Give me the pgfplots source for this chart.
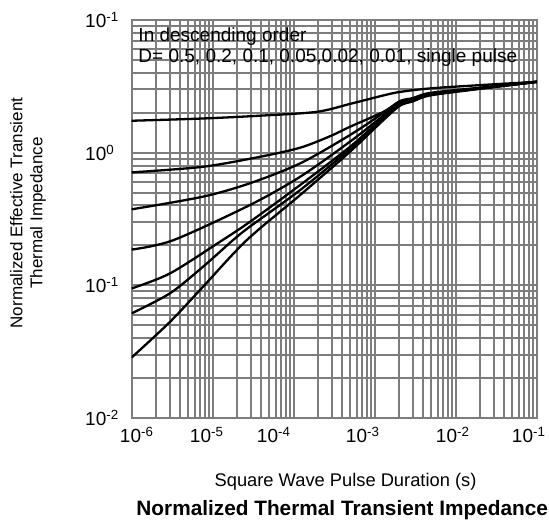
\documentclass[border=0pt]{standalone}
\usepackage{pgfplots}
\pgfplotsset{compat=1.18}
\usepackage{fontspec}
\setmainfont{Liberation Sans}

\definecolor{gridgray}{RGB}{125,125,125}

\begin{document}
\begin{tikzpicture}
\begin{axis}[
    at={(0pt,0pt)}, anchor=south west,
    scale only axis,
    width=405pt, height=398pt,
    xmode=log, ymode=log,
    xmin=1e-6, xmax=1e-1,
    ymin=1e-2, ymax=1e1,
    xtick={1e-6,1e-5,1e-4,1e-3,1e-2,1e-1},
    xticklabels={\kern5pt 10\textsuperscript{-6}\kern-5pt,
                 \kern-6pt 10\textsuperscript{-5}\kern6pt,
                 \kern-20pt 10\textsuperscript{-4}\kern20pt,
                 \kern-12pt 10\textsuperscript{-3}\kern12pt,
                 \kern-3pt 10\textsuperscript{-2}\kern3pt,
                 \kern-8pt 10\textsuperscript{-1}\kern8pt},
    ytick={1e-2,1e-1,1,10},
    yticklabels={10\textsuperscript{-2},10\textsuperscript{-1},10\textsuperscript{0},10\textsuperscript{-1}},
    minor xtick={2e-6,3e-6,4e-6,5e-6,6e-6,7e-6,8e-6,9e-6,
                 2e-5,3e-5,4e-5,5e-5,6e-5,7e-5,8e-5,9e-5,
                 2e-4,3e-4,4e-4,5e-4,6e-4,7e-4,8e-4,9e-4,
                 2e-3,3e-3,4e-3,5e-3,6e-3,7e-3,8e-3,9e-3,
                 2e-2,3e-2,4e-2,5e-2,6e-2,7e-2,8e-2,9e-2},
    minor ytick={0.02,0.03,0.04,0.05,0.06,0.07,0.08,0.09,
                 0.2,0.3,0.4,0.5,0.6,0.7,0.8,0.9,
                 2,3,4,5,6,7,8,9},
    grid=both,
    grid style={gridgray, line width=2pt},
    major grid style={gridgray, line width=2pt},
    minor grid style={gridgray, line width=2pt},
    axis line style={gridgray, line width=2pt},
    major tick length=0pt, minor tick length=0pt,
    tick label style={font=\fontsize{19}{23}\selectfont},
    xticklabel style={anchor=north, inner sep=0pt, yshift=-9pt},
    yticklabel style={anchor=west, inner sep=0pt, xshift=-46.7pt},
    xlabel={Square Wave Pulse Duration (s)},
    xlabel style={at={(axis description cs:0.528,-0.173)}, anchor=base,
                  font=\fontsize{18.3}{22}\selectfont},
    ylabel={Normalized Effective Transient\\Thermal Impedance},
    ylabel style={at={(axis description cs:-0.256,0.515)}, anchor=center,
                  align=center, font=\fontsize{17}{20}\selectfont},
    title={Normalized Thermal Transient Impedance},
    title style={at={(axis description cs:0.003,-0.259)}, anchor=base west,
                 font=\bfseries\fontsize{20.8}{25}\selectfont},
    curve/.style={black, line width=2.3pt, smooth, tension=0.5, mark=none, solid},
]
% D = 0.5
\addplot[curve] coordinates {(1e-6,1.74) (7.59e-6,1.81) (3.84e-5,1.90) (1.92e-4,2.03)
  (4.95e-4,2.33) (1.28e-3,2.70) (2.05e-3,2.87) (4.82e-3,3.05)
  (2e-2,3.23) (0.1,3.42)};
% D = 0.2
\addplot[curve] coordinates {(1e-6,0.710) (7.59e-6,0.783) (3.84e-5,0.931) (1.20e-4,1.09)
  (2.81e-4,1.33) (4.95e-4,1.567) (1.28e-3,2.03) (2.05e-3,2.45) (2.97e-3,2.58)
  (4.82e-3,2.82) (2e-2,3.09) (0.1,3.42)};
% D = 0.1
\addplot[curve] coordinates {(1e-6,0.374) (7.59e-6,0.466) (2.88e-5,0.588) (1.20e-4,0.830)
  (4.95e-4,1.358) (1.28e-3,1.99) (2.05e-3,2.40) (2.97e-3,2.52) (4.82e-3,2.78)
  (2e-2,3.07) (0.1,3.42)};
% D = 0.05
\addplot[curve] coordinates {(1e-6,0.186) (3.27e-6,0.219) (2.88e-5,0.403) (1.20e-4,0.658)
  (4.95e-4,1.21) (1.28e-3,1.90) (2.05e-3,2.36) (2.97e-3,2.50) (4.82e-3,2.76)
  (2e-2,3.06) (0.1,3.42)};
% D = 0.02
\addplot[curve] coordinates {(1e-6,0.0948) (2.97e-6,0.123) (1.23e-5,0.213) (2.88e-5,0.301)
  (1.20e-4,0.570) (4.95e-4,1.107) (1.28e-3,1.84) (2.05e-3,2.32) (2.97e-3,2.48)
  (4.82e-3,2.74) (2e-2,3.05) (0.1,3.42)};
% D = 0.01
\addplot[curve] coordinates {(1e-6,0.0615) (2.97e-6,0.0871) (7.59e-6,0.138) (1.78e-5,0.219)
  (2.88e-5,0.277) (1.20e-4,0.522) (4.95e-4,1.064) (1.28e-3,1.80) (2.05e-3,2.29)
  (2.97e-3,2.46) (4.82e-3,2.72) (2e-2,3.04) (0.1,3.42)};
% single pulse
\addplot[curve] coordinates {(1e-6,0.0286) (2.97e-6,0.0530) (7.59e-6,0.0975) (2.63e-5,0.219)
  (1.20e-4,0.479) (4.95e-4,1.016) (1.28e-3,1.76) (2.05e-3,2.26) (2.97e-3,2.44)
  (4.82e-3,2.70) (2e-2,3.03) (0.1,3.42)};

\node[anchor=north west, align=left, inner sep=0pt,
      font=\fontsize{19}{21}\selectfont] at (rel axis cs:0.0163,0.98)
  {In descending order\\D= 0.5, 0.2, 0.1, 0.05,0.02, 0.01, single pulse};
\end{axis}
\pgfresetboundingbox
\path[use as bounding box] (-131.7pt,-108pt) rectangle (417.3pt,418pt);
\end{tikzpicture}
\end{document}
